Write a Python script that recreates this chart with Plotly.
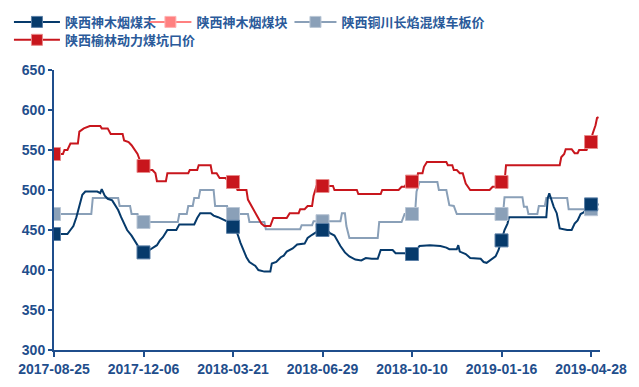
import numpy as np
import plotly.graph_objects as go

# x positions are trading-period indices; tick dates fall every 60 periods
tick_idx = [0, 60, 120, 180, 240, 300, 360]
tick_labels = ["2017-08-25", "2017-12-06", "2018-03-21", "2018-06-29",
               "2018-10-10", "2019-01-16", "2019-04-28"]

names = ["陕西神木烟煤末", "陕西神木烟煤块", "陕西铜川长焰混煤车板价", "陕西榆林动力煤坑口价"]

# 陕西神木烟煤末
mo_x = [0, 9, 11, 13, 15, 17, 19, 21, 29, 31, 32, 34, 36, 39, 40, 43, 45, 47, 49, 52,
        54, 56, 58, 60, 62, 64, 67, 69, 71, 73, 76, 82, 84, 94, 96, 98, 105, 107, 110, 115,
        117, 120, 123, 125, 127, 129, 131, 135, 137, 141, 145, 146, 149, 152, 154, 156, 160, 163, 168, 170,
        173, 176, 178, 183, 185, 188, 190, 192, 195, 198, 202, 206, 209, 213, 217, 219, 227, 229, 235, 237,
        240, 243, 245, 252, 259, 263, 265, 270, 271, 272, 276, 279, 286, 288, 290, 292, 296, 298, 300, 302,
        304, 305, 330, 331, 332, 333, 335, 337, 339, 344, 347, 349, 351, 353, 355, 358, 360, 365]
mo_y = [445, 445, 450, 455, 466, 479, 494, 498, 498, 496, 501, 493, 489, 487, 484, 475, 466, 458, 450, 443,
        437, 431, 425, 422, 422, 425, 428, 431, 437, 441, 450, 450, 457, 457, 465, 471, 471, 468, 466, 462,
        460, 454, 445, 434, 425, 416, 410, 405, 400, 398, 398, 408, 410, 416, 418, 423, 427, 432, 433, 440,
        444, 448, 450, 450, 446, 443, 436, 430, 422, 417, 413, 412, 415, 414, 414, 425, 425, 421, 421, 419,
        420, 425, 430, 431, 430, 428, 426, 426, 431, 423, 420, 415, 414, 410, 409, 412, 417, 425, 437, 450,
        458, 466, 466, 490, 496, 490, 479, 471, 452, 450, 450, 458, 462, 470, 472, 478, 482, 482]

# 陕西神木烟煤块 (no data shown)
kuai_x = []
kuai_y = []

# 陕西铜川长焰混煤车板价
tc_x = [0, 25, 26, 43, 44, 51, 52, 56, 57, 83, 84, 89, 90, 93, 94, 97, 98, 107, 108, 116,
        117, 130, 131, 141, 142, 165, 166, 173, 174, 192, 193, 195, 196, 198, 217, 218, 233, 235, 242, 243,
        245, 257, 258, 263, 265, 268, 270, 301, 302, 314, 315, 317, 318, 324, 325, 329, 330, 344, 345, 365]
tc_y = [470, 470, 490, 490, 480, 480, 470, 470, 460, 460, 470, 470, 480, 480, 490, 490, 500, 500, 480, 480,
        470, 470, 460, 460, 451, 451, 456, 456, 461, 461, 471, 471, 455, 440, 440, 460, 460, 470, 470, 498,
        510, 510, 500, 500, 481, 480, 470, 470, 491, 491, 479, 479, 470, 470, 480, 480, 490, 490, 476, 476]

# 陕西榆林动力煤坑口价
yl_x = [0, 6, 7, 9, 11, 16, 17, 20, 24, 31, 32, 36, 38, 46, 47, 50, 52, 54, 56, 57,
        58, 60, 63, 66, 68, 69, 75, 76, 90, 91, 96, 97, 105, 106, 109, 111, 115, 117, 121, 123,
        129, 130, 133, 137, 139, 141, 145, 147, 156, 158, 164, 165, 168, 170, 173, 174, 176, 187, 188, 203,
        204, 219, 220, 231, 233, 235, 237, 243, 244, 247, 248, 250, 263, 264, 267, 268, 270, 272, 274, 276,
        278, 279, 292, 294, 297, 298, 302, 303, 339, 340, 342, 343, 347, 349, 351, 352, 357, 358, 360, 361,
        363, 364, 365]
yl_y = [545, 545, 550, 550, 558, 558, 573, 577, 580, 580, 577, 577, 570, 570, 562, 560, 556, 550, 545, 540,
        535, 530, 525, 525, 521, 511, 511, 521, 521, 525, 525, 531, 531, 521, 521, 515, 515, 510, 510, 500,
        500, 488, 478, 466, 458, 455, 455, 465, 465, 471, 471, 476, 476, 480, 480, 493, 505, 505, 500, 500,
        495, 495, 500, 500, 504, 504, 510, 511, 521, 521, 529, 535, 535, 531, 531, 525, 525, 521, 521, 508,
        503, 500, 500, 504, 504, 510, 510, 531, 531, 541, 545, 551, 551, 546, 546, 550, 550, 555, 560, 570,
        581, 590, 591]

series_x = [mo_x, kuai_x, tc_x, yl_x]
series_y = [mo_y, kuai_y, tc_y, yl_y]
line_colors = ["#063A6B", "#FF8080", "#8AA0B8", "#C8161D"]
edge_colors = ["#5B7FA6", "#FFB3B3", "#B9C6D5", "#E88A8A"]

fig = go.Figure()
draw_order = [2, 0, 1, 3]
for i in draw_order:
    xs, ys = series_x[i], series_y[i]
    if len(xs):
        fig.add_trace(go.Scatter(x=xs, y=ys, mode="lines",
                                 line=dict(color=line_colors[i], width=2),
                                 showlegend=False, hoverinfo="skip"))
for i in draw_order:
    xs, ys = series_x[i], series_y[i]
    if len(xs):
        mk_x = [t for t in tick_idx if t <= xs[-1]]
        mk_y = list(np.interp(mk_x, xs, ys))
        fig.add_trace(go.Scatter(x=mk_x, y=mk_y, mode="markers",
                                 marker=dict(symbol="square", size=13, color=line_colors[i],
                                             line=dict(color=edge_colors[i], width=1)),
                                 showlegend=False, hoverinfo="skip"))

legend_ids = ["legend", "legend2", "legend3", "legend4"]
legend_pos = [(0.014, 0.982), (0.226, 0.982), (0.453, 0.982), (0.014, 0.9357)]
legend_iw = [46, 42, 42, 46]
legend_font = dict(size=13, color="#2A5A9A", family="Noto Sans CJK SC, sans-serif", weight="bold")
for i in range(4):
    fig.add_trace(go.Scatter(x=[None], y=[None], mode="lines+markers", name=names[i],
                             legend=legend_ids[i],
                             line=dict(color=line_colors[i], width=2),
                             marker=dict(symbol="square", size=11, color=line_colors[i],
                                         line=dict(color=edge_colors[i], width=1))))

axis_color = "#1F4E8C"
legend_layout = {}
for i in range(4):
    lx, ly = legend_pos[i]
    legend_layout[legend_ids[i]] = dict(x=lx, y=ly, xref="container", yref="container",
                                        xanchor="left", yanchor="top", orientation="h",
                                        font=legend_font, itemwidth=legend_iw[i],
                                        bgcolor="rgba(0,0,0,0)")

fig.update_layout(
    width=639, height=387,
    margin=dict(l=54, r=39, t=70, b=37),
    paper_bgcolor="white", plot_bgcolor="white",
    font=dict(family="Liberation Sans, Arial, sans-serif", color=axis_color),
    xaxis=dict(range=[0, 366], tickmode="array", tickvals=tick_idx, ticktext=tick_labels,
               showgrid=False, zeroline=False, showline=True, linecolor=axis_color, linewidth=2,
               ticks="outside", ticklen=5, tickwidth=2, tickcolor=axis_color, automargin=False,
               tickfont=dict(size=14, color=axis_color, family="Liberation Sans, Arial, sans-serif", weight="bold")),
    yaxis=dict(range=[300, 650], tickvals=[300, 350, 400, 450, 500, 550, 600, 650],
               showgrid=False, zeroline=False, showline=True, linecolor=axis_color, linewidth=2,
               ticks="outside", ticklen=4, tickwidth=2, tickcolor=axis_color, automargin=False,
               tickfont=dict(size=14, color=axis_color, family="Liberation Sans, Arial, sans-serif", weight="bold")),
    **legend_layout,
)

fig.write_html("out.html", config={"displayModeBar": False},
               post_script="document.body.style.margin='0';document.body.style.overflow='hidden';")
